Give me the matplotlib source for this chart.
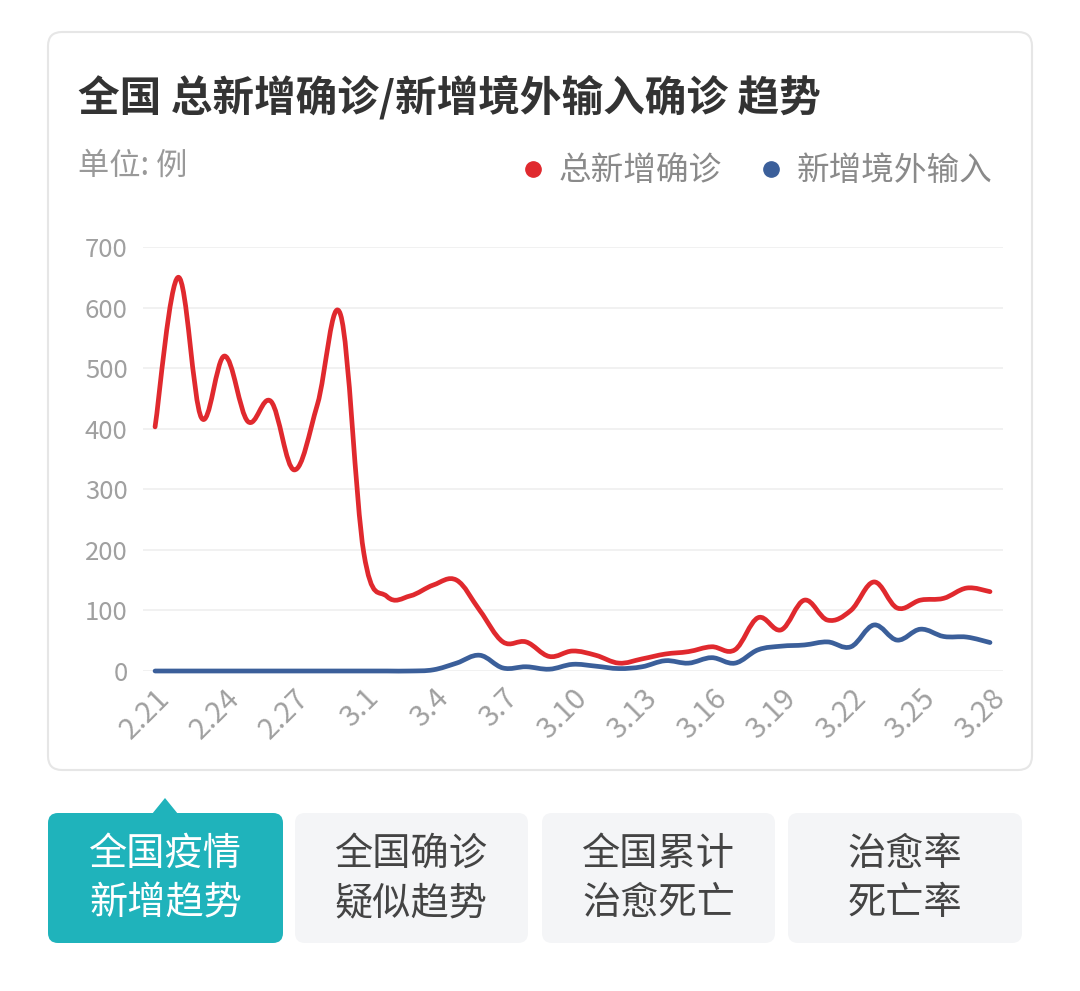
import matplotlib
matplotlib.use('Agg')
import matplotlib.pyplot as plt
import matplotlib.transforms as mtransforms
from matplotlib.path import Path
from matplotlib.patches import PathPatch, FancyBboxPatch, Polygon
from matplotlib.lines import Line2D

plt.rcParams['font.family'] = ['Noto Sans CJK SC', 'DejaVu Sans']

# dates 2.21 .. 3.28
dates = ['2.%d' % d for d in range(21, 30)] + ['3.%d' % d for d in range(1, 29)]

total_new = [403, 650, 418, 520, 412, 445, 332, 440, 588,
             195, 123, 124, 142, 150, 100, 48, 48, 24, 33, 26, 13, 20, 28, 32, 40,
             35, 88, 68, 117, 84, 100, 147, 104, 117, 120, 137, 131]
imported = [0, 0, 0, 0, 0, 0, 0, 0, 0,
            0, 0, 0, 2, 13, 26, 5, 7, 3, 11, 8, 4, 7, 17, 13, 22,
            13, 35, 41, 43, 48, 40, 76, 51, 69, 57, 56, 47]

series_names = ['总新增确诊', '新增境外输入']
colors = ['#e0292e', '#3b5f9a']
tabs = ['全国疫情\n新增趋势', '全国确诊\n疑似趋势', '全国累计\n治愈死亡', '治愈率\n死亡率']

W, H = 1080, 991
fig = plt.figure(figsize=(W / 100, H / 100), dpi=100)
fig.patch.set_facecolor('white')
# pixel coords measured from top-left
px = mtransforms.Affine2D().scale(1 / W, -1 / H).translate(0, 1) + fig.transFigure


def smooth_path(xs, ys, t=0.18):
    pts = list(zip(xs, ys))
    verts = [pts[0]]
    codes = [Path.MOVETO]
    n = len(pts)
    for i in range(n - 1):
        p0 = pts[max(i - 1, 0)]
        p1 = pts[i]
        p2 = pts[i + 1]
        p3 = pts[min(i + 2, n - 1)]
        c1 = (p1[0] + (p2[0] - p0[0]) * t, p1[1] + (p2[1] - p0[1]) * t)
        c2 = (p2[0] - (p3[0] - p1[0]) * t, p2[1] - (p3[1] - p1[1]) * t)
        verts += [c1, c2, p2]
        codes += [Path.CURVE4] * 3
    return Path(verts, codes)


# card
card = FancyBboxPatch((48, 32), 984, 738, boxstyle='round,pad=0,rounding_size=14',
                      transform=px, facecolor='white', edgecolor='#e6e6e6', lw=1.5, zorder=-5)
fig.add_artist(card)

fig.text(78 / W, 1 - 97 / H, '全国 总新增确诊/新增境外输入确诊 趋势', fontsize=30,
         fontweight='bold', color='#333333', va='center', ha='left')
fig.text(78 / W, 1 - 166 / H, '单位: 例', fontsize=22.5, color='#999999',
         va='center', ha='left')

ax = fig.add_axes([143 / W, 1 - 671 / H, 860 / W, 424 / H])
ax.patch.set_alpha(0)
x = list(range(len(dates)))
ax.set_xlim(-0.52, 36.56)
ax.set_ylim(0, 700)

ax.add_patch(PathPatch(smooth_path(x, imported), fill=False, edgecolor=colors[1],
                       lw=3.4, clip_on=False, capstyle='round', joinstyle='round', zorder=3))
ax.add_patch(PathPatch(smooth_path(x, total_new), fill=False, edgecolor=colors[0],
                       lw=3.4, clip_on=False, capstyle='round', joinstyle='round', zorder=4))

ax.set_yticks(range(0, 701, 100))
ax.set_xticks(x[::3])
ax.set_xticklabels(dates[::3], rotation=45, ha='right', rotation_mode='anchor')
ax.tick_params(axis='y', length=0, pad=11, labelsize=18.5, labelcolor='#a0a0a0')
ax.tick_params(axis='x', length=0, pad=9, labelsize=21, labelcolor='#a0a0a0')
ax.grid(axis='y', color='#efefef', lw=1.2)
ax.set_axisbelow(True)
for s in ax.spines.values():
    s.set_visible(False)

handles = [Line2D([], [], ls='none', marker='o', ms=11, color=c) for c in colors]
fig.legend(handles, series_names, loc='center right', bbox_to_anchor=(1022 / W, 1 - 171 / H),
           ncol=2, frameon=False, fontsize=23.5, labelcolor='#8a8a8a',
           handlelength=0.6, handletextpad=0.5, columnspacing=1.2)

# tabs
tab_x = [48, 295, 542, 788]
tab_w = [235, 233, 233, 234]
for i, (tx, tw, label) in enumerate(zip(tab_x, tab_w, tabs)):
    fc = '#1fb3bb' if i == 0 else '#f4f5f7'
    tc = 'white' if i == 0 else '#444444'
    fig.add_artist(FancyBboxPatch((tx, 813), tw, 130, boxstyle='round,pad=0,rounding_size=10',
                                  transform=px, facecolor=fc, edgecolor='none', zorder=-5))
    fig.text((tx + tw / 2) / W, 1 - 879 / H, label, fontsize=27.5, color=tc,
             ha='center', va='center', linespacing=1.35)
fig.add_artist(Polygon([(152, 814), (165, 798), (178, 814)], closed=True,
                       transform=px, facecolor='#1fb3bb', edgecolor='none', zorder=-5))

fig.savefig('out.png', dpi=100, facecolor='white')
